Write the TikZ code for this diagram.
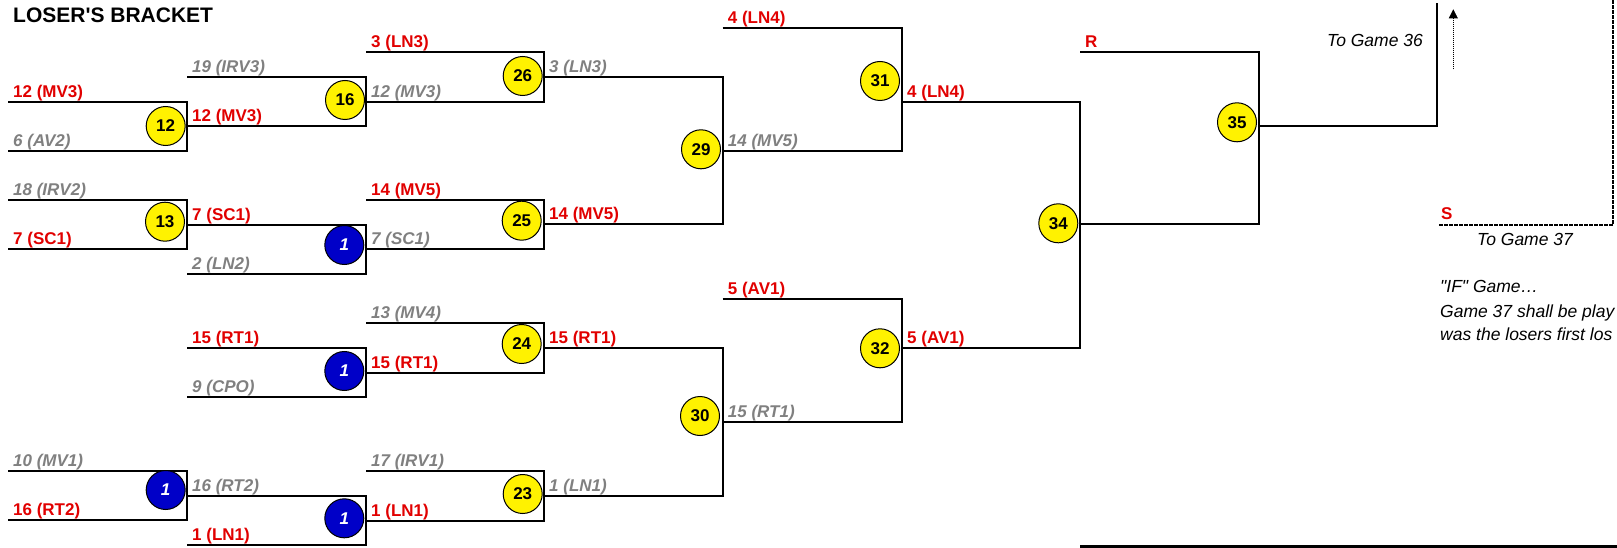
\documentclass[tikz,border=0pt]{standalone}
\usepackage{fontspec}
\setmainfont{Liberation Sans}[Ligatures=TeXOff]
\usetikzlibrary{arrows.meta}
\definecolor{lred}{RGB}{225,0,0}
\definecolor{lgray}{RGB}{128,128,128}
\definecolor{gyel}{RGB}{255,242,0}
\definecolor{gblue}{RGB}{0,0,200}
\newcommand\brk[5]{%
  \coordinate (#1t) at (#2,#4); \coordinate (#1b) at (#2,#5);
  \coordinate (#1tx) at (#3,#4); \coordinate (#1bx) at (#3,#5);
  \draw[brline] (#1t) -- (#1tx) -- (#1bx) -- (#1b);}
\newcommand\lab[4]{\node[#2] (#1) at ([shift={(5,-4.5)}]#3) {#4};}
\begin{document}
\begin{tikzpicture}[x=1pt,y=-1pt,
  brline/.style={line width=2pt, line join=miter},
  redlab/.style={anchor=base west, inner sep=0pt, text=lred, font=\fontsize{17}{20}\selectfont\bfseries},
  graylab/.style={anchor=base west, inner sep=0pt, text=lgray, font=\fontsize{17}{20}\selectfont\bfseries\itshape},
  ygame/.style={circle, draw=black, line width=1pt, fill=gyel, minimum size=39pt, inner sep=0pt, font=\fontsize{17}{20}\selectfont\bfseries},
  bgame/.style={circle, draw=black, line width=1pt, fill=gblue, minimum size=39pt, inner sep=0pt, text=white, font=\fontsize{17}{20}\selectfont\bfseries\itshape},
  note/.style={inner sep=0pt, font=\fontsize{17.5}{20}\selectfont\itshape}]
\useasboundingbox (0,0) rectangle (1617,548);
\begin{scope}
\clip (0,0) rectangle (1617,548);
% title
\node[anchor=base west, inner sep=0pt, font=\fontsize{21}{24}\selectfont\bfseries] (title) at (13,22.7) {LOSER'S BRACKET};
% round 1
\brk{g12}{8}{187}{101.7}{150.7}
\brk{g13}{8}{187}{200}{249.3}
\brk{g1a}{8}{187}{470.7}{520}
% round 2
\brk{g16}{187}{366}{76.7}{126}
\brk{g1b}{187}{366}{225}{274}
\brk{g1c}{187}{366}{347.7}{396.7}
\brk{g1d}{187}{366}{495.7}{545}
% round 3
\brk{g26}{366}{544}{51.7}{101.7}
\brk{g25}{366}{544}{200}{249.3}
\brk{g24}{366}{544}{322.7}{372.7}
\brk{g23}{366}{544}{470.7}{520.7}
% round 4
\brk{g29}{544}{722.7}{76.7}{224.3}
\brk{g30}{544}{722.7}{347.7}{495.7}
% round 5
\brk{g31}{722.7}{902}{27.7}{150.7}
\brk{g32}{722.7}{902}{299}{421.7}
% round 6
\brk{g34}{902}{1080}{101.7}{347.7}
% round 7
\brk{g35}{1080}{1259}{51.7}{224.3}
% to game 36
\coordinate (o35) at (1259,125.7);
\coordinate (c36) at (1437,125.7);
\coordinate (t36) at (1437,3.3);
\draw[brline] (o35) -- (c36) -- (t36);
\coordinate (arrb) at (1453.3,69.3);
\coordinate (arrt) at (1453.3,9.3);
\draw[line width=0.6pt, dash pattern=on 0.8pt off 1.2pt, -{Triangle[length=9pt,width=9pt]}] (arrb) -- (arrt);
\node[note, anchor=base east] (to36) at (1423,46.7) {To Game 36};
% to game 37 (dashed)
\coordinate (s0) at (1439.3,225);
\coordinate (s1) at (1613,225);
\coordinate (s2) at (1613,0);
\draw[line width=1.6pt, dash pattern=on 3.3pt off 1.7pt] (s0) -- (s1) -- (s2);
\node[anchor=base west, inner sep=0pt, text=lred, font=\fontsize{17}{20}\selectfont\bfseries] (slab) at (1441,220) {S};
\node[note, anchor=base west] (to37) at (1477,245) {To Game 37};
% if note (cut by the page edge in the original)
\node[note, anchor=base west] (if1) at (1440,292.7) {"IF" Game\ldots};
\node[note, anchor=base west] (if2) at (1440,317.3) {Game 37 shall be play};
\node[note, anchor=base west] (if3) at (1440,340.7) {was the losers first los};
% bottom thick line
\coordinate (bl0) at (1080,546.3);
\coordinate (bl1) at (1617,546.3);
\draw[line width=3.6pt] (bl0) -- (bl1);
% labels
\lab{l1}{redlab}{g12t}{12 (MV3)}
\lab{l2}{graylab}{g12b}{6 (AV2)}
\lab{l3}{graylab}{g13t}{18 (IRV2)}
\lab{l4}{redlab}{g13b}{7 (SC1)}
\lab{l5}{graylab}{g1at}{10 (MV1)}
\lab{l6}{redlab}{g1ab}{16 (RT2)}
\lab{l7}{graylab}{g16t}{19 (IRV3)}
\lab{l8}{redlab}{g16b}{12 (MV3)}
\lab{l9}{redlab}{g1bt}{7 (SC1)}
\lab{l10}{graylab}{g1bb}{2 (LN2)}
\lab{l11}{redlab}{g1ct}{15 (RT1)}
\lab{l12}{graylab}{g1cb}{9 (CPO)}
\lab{l13}{graylab}{g1dt}{16 (RT2)}
\lab{l14}{redlab}{g1db}{1 (LN1)}
\lab{l15}{redlab}{g26t}{3 (LN3)}
\lab{l16}{graylab}{g26b}{12 (MV3)}
\lab{l17}{redlab}{g25t}{14 (MV5)}
\lab{l18}{graylab}{g25b}{7 (SC1)}
\lab{l19}{graylab}{g24t}{13 (MV4)}
\lab{l20}{redlab}{g24b}{15 (RT1)}
\lab{l21}{graylab}{g23t}{17 (IRV1)}
\lab{l22}{redlab}{g23b}{1 (LN1)}
\lab{l23}{graylab}{g29t}{3 (LN3)}
\lab{l24}{redlab}{g29b}{14 (MV5)}
\lab{l25}{redlab}{g30t}{15 (RT1)}
\lab{l26}{graylab}{g30b}{1 (LN1)}
\lab{l27}{redlab}{g31t}{4 (LN4)}
\lab{l28}{graylab}{g31b}{14 (MV5)}
\lab{l29}{redlab}{g32t}{5 (AV1)}
\lab{l30}{graylab}{g32b}{15 (RT1)}
\lab{l31}{redlab}{g34t}{4 (LN4)}
\lab{l32}{redlab}{g34b}{5 (AV1)}
\lab{l33}{redlab}{g35t}{R}
% game circles
\node[ygame] (n12) at (165.7,126) {12};
\node[ygame] (n13) at (165,221.7) {13};
\node[bgame] (n1a) at (165.7,490) {1};
\node[ygame] (n16) at (345,100) {16};
\node[bgame] (n1b) at (344.3,245) {1};
\node[bgame] (n1c) at (344.3,371) {1};
\node[bgame] (n1d) at (344.3,518.3) {1};
\node[ygame] (n26) at (522.7,76) {26};
\node[ygame] (n25) at (521.7,220.7) {25};
\node[ygame] (n24) at (521.7,344) {24};
\node[ygame] (n23) at (522.7,494) {23};
\node[ygame] (n29) at (701,149.3) {29};
\node[ygame] (n30) at (700,416) {30};
\node[ygame] (n31) at (880,81) {31};
\node[ygame] (n32) at (880,348.3) {32};
\node[ygame] (n34) at (1058.3,223.3) {34};
\node[ygame] (n35) at (1237,122.3) {35};
\end{scope}
\end{tikzpicture}
\end{document}
